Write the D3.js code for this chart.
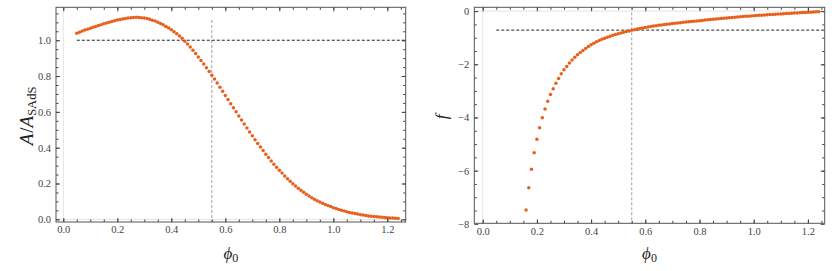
<!DOCTYPE html>
<html>
<head>
<meta charset="utf-8">
<script src="https://cdn.jsdelivr.net/npm/d3@7"></script>
<style>
  body { margin: 0; background: #fff; }
  svg { display: block; }
  .tick text { font-family: "Liberation Serif", "DejaVu Serif", serif; font-size: 10.5px; fill: #444; }
  .lbl { font-family: "Liberation Serif", "DejaVu Serif", serif; fill: #222; }
</style>
</head>
<body>
<svg id="chart" width="839" height="271"></svg>
<script>
// sampling grids (start, step)
var phiA = d3.range(0, 120).map(function(i) { return +(0.05 + i * 0.01).toFixed(2); });
var phiF = d3.range(0, 109).map(function(i) { return +(0.16 + i * 0.01).toFixed(2); });

// A / A_SAdS, phi0 = 0.05 ... 1.24
var areaRatio = [
  1.039, 1.045, 1.051, 1.057, 1.062, 1.067, 1.072, 1.077, 1.082, 1.087,
  1.092, 1.097, 1.101, 1.105, 1.109, 1.113, 1.116, 1.119, 1.122, 1.124,
  1.126, 1.127, 1.128, 1.127, 1.126, 1.124, 1.121, 1.117, 1.112, 1.107,
  1.101, 1.094, 1.086, 1.077, 1.068, 1.058, 1.047, 1.036, 1.024, 1.011,
  0.995, 0.979, 0.962, 0.944, 0.926, 0.907, 0.887, 0.867, 0.847, 0.826,
  0.805, 0.783, 0.761, 0.738, 0.715, 0.692, 0.669, 0.646, 0.623, 0.600,
  0.577, 0.554, 0.532, 0.510, 0.488, 0.466, 0.445, 0.424, 0.404, 0.384,
  0.364, 0.345, 0.326, 0.308, 0.291, 0.274, 0.258, 0.242, 0.227, 0.213,
  0.199, 0.186, 0.174, 0.162, 0.151, 0.140, 0.130, 0.121, 0.112, 0.104,
  0.097, 0.090, 0.083, 0.077, 0.071, 0.065, 0.060, 0.055, 0.050, 0.046,
  0.042, 0.038, 0.035, 0.032, 0.029, 0.026, 0.024, 0.021, 0.019, 0.017,
  0.016, 0.014, 0.013, 0.011, 0.010, 0.009, 0.008, 0.007, 0.006, 0.005
];

// f, phi0 = 0.16 ... 1.24
var fVals = [
  -7.48, -6.64, -5.95, -5.33, -4.82, -4.39, -4.01, -3.68, -3.39, -3.14,
  -2.92, -2.71, -2.53, -2.36, -2.21, -2.08, -1.95, -1.84, -1.74, -1.645,
  -1.56, -1.48, -1.405, -1.335, -1.27, -1.21, -1.155, -1.105, -1.06, -1.02,
  -0.982, -0.946, -0.912, -0.88, -0.85, -0.822, -0.795, -0.769, -0.744, -0.72,
  -0.697, -0.675, -0.654, -0.634, -0.615, -0.597, -0.580, -0.564, -0.548, -0.533,
  -0.519, -0.506, -0.493, -0.481, -0.469, -0.457, -0.445, -0.434, -0.423, -0.412,
  -0.401, -0.390, -0.380, -0.370, -0.360, -0.349, -0.338, -0.327, -0.317, -0.307,
  -0.297, -0.287, -0.277, -0.267, -0.258, -0.249, -0.240, -0.231, -0.222, -0.214,
  -0.206, -0.198, -0.190, -0.182, -0.174, -0.167, -0.160, -0.153, -0.146, -0.139,
  -0.132, -0.125, -0.118, -0.112, -0.105, -0.099, -0.092, -0.086, -0.080, -0.074,
  -0.068, -0.062, -0.056, -0.050, -0.044, -0.039, -0.033, -0.028, -0.022
];

var xTicks = [0.0, 0.2, 0.4, 0.6, 0.8, 1.0, 1.2];
var yTicksA = [0.0, 0.2, 0.4, 0.6, 0.8, 1.0];
var yTicksF = [0, -2, -4, -6, -8];
var markPhi = 0.55;
var refA = 1.0;
var refF = -0.715;

var svg = d3.select("#chart");
var dotColor = "#e8601c";

function panel(opt) {
  var x = d3.scaleLinear().domain(opt.xd).range([opt.left, opt.right]);
  var y = d3.scaleLinear().domain(opt.yd).range([opt.bottom, opt.top]);
  var g = svg.append("g");

  // faint origin lines
  g.append("line").attr("x1", x(0)).attr("x2", x(0)).attr("y1", opt.top).attr("y2", opt.bottom)
    .attr("stroke", "#e4e4e4").attr("stroke-width", 1);
  g.append("line").attr("x1", opt.left).attr("x2", opt.right).attr("y1", y(0)).attr("y2", y(0))
    .attr("stroke", "#e4e4e4").attr("stroke-width", 1);

  // reference lines
  g.append("line").attr("x1", x(markPhi)).attr("x2", x(markPhi))
    .attr("y1", opt.vTop != null ? y(opt.vTop) : opt.top).attr("y2", opt.bottom)
    .attr("stroke", "#a0a0a0").attr("stroke-width", 1).attr("stroke-dasharray", "3,2");
  g.append("line").attr("x1", x(0.05)).attr("x2", opt.right).attr("y1", y(opt.ref)).attr("y2", y(opt.ref))
    .attr("stroke", "#222").attr("stroke-width", 1).attr("stroke-dasharray", "3,2");

  // data points
  g.selectAll("circle.pt").data(opt.xs).enter().append("circle")
    .attr("class", "pt")
    .attr("cx", function(d) { return x(d); })
    .attr("cy", function(d, i) { return y(opt.ys[i]); })
    .attr("r", 1.75)
    .attr("fill", dotColor);

  var fmt = opt.fmt;
  function ax(axisFn, tr, scale, ticks, minor, labels) {
    var a = axisFn(scale).tickValues(ticks).tickSizeOuter(0);
    if (labels) a.tickSize(-4).tickPadding(5).tickFormat(fmt);
    else a.tickSize(minor ? -2.5 : -4).tickFormat("");
    var sel = g.append("g").attr("transform", tr).call(a);
    sel.select(".domain").remove();
    sel.selectAll(".tick line").attr("stroke", "#444");
    return sel;
  }
  var xMinor = d3.range(0, 54).map(function(i) { return i * 0.05 - 0.05; }).filter(function(v) { return v >= opt.xd[0] && v <= opt.xd[1]; });
  var yMinor = opt.yMinor.filter(function(v) { return v >= Math.min.apply(null, opt.yd) && v <= Math.max.apply(null, opt.yd); });

  var xf = d3.format(".1f");
  g.append("g").attr("transform", "translate(0," + opt.bottom + ")")
    .call(function(s) {
      var a = d3.axisBottom(x).tickValues(xTicks).tickSize(-4).tickPadding(4).tickSizeOuter(0).tickFormat(xf);
      s.call(a); s.select(".domain").remove(); s.selectAll(".tick line").attr("stroke", "#444");
    });
  ax(d3.axisBottom, "translate(0," + opt.bottom + ")", x, xMinor, true, false);
  ax(d3.axisTop, "translate(0," + opt.top + ")", x, xTicks, false, false);
  ax(d3.axisTop, "translate(0," + opt.top + ")", x, xMinor, true, false);
  ax(d3.axisLeft, "translate(" + opt.left + ",0)", y, opt.yTicks, false, true);
  ax(d3.axisLeft, "translate(" + opt.left + ",0)", y, yMinor, true, false);
  ax(d3.axisRight, "translate(" + opt.right + ",0)", y, opt.yTicks, false, false);
  ax(d3.axisRight, "translate(" + opt.right + ",0)", y, yMinor, true, false);

  // frame
  g.append("rect").attr("x", opt.left).attr("y", opt.top)
    .attr("width", opt.right - opt.left).attr("height", opt.bottom - opt.top)
    .attr("fill", "none").attr("stroke", "#555").attr("stroke-width", 1);

  // x label
  var xl = g.append("text").attr("class", "lbl")
    .attr("x", (opt.left + opt.right) / 2).attr("y", 259)
    .attr("text-anchor", "middle").attr("font-size", 17);
  xl.append("tspan").attr("font-style", "italic").text("\u03d5");
  xl.append("tspan").attr("font-size", 12).attr("dy", 3).text("0");
  return { g: g, x: x, y: y };
}

var pA = panel({
  left: 56, right: 405.7, top: 7.3, bottom: 222,
  xd: [-0.027, 1.268], yd: [-0.015, 1.184],
  xs: phiA, ys: areaRatio, ref: refA, vTop: 1.113,
  yTicks: yTicksA, yMinor: d3.range(0, 25).map(function(i) { return i * 0.05; }),
  fmt: d3.format(".1f")
});
var pF = panel({
  left: 474.3, right: 824.7, top: 7.3, bottom: 223.3,
  xd: [-0.031, 1.262], yd: [-7.98, 0.143],
  xs: phiF, ys: fVals, ref: refF, vTop: null,
  yTicks: yTicksF, yMinor: d3.range(0, 17).map(function(i) { return -i * 0.5; }),
  fmt: function(d) { return d < 0 ? "\u2212" + Math.abs(d) : "" + d; }
});

// y labels
var yl = svg.append("text").attr("class", "lbl").attr("font-size", 19)
  .attr("transform", "translate(33,116) rotate(-90)").attr("text-anchor", "middle");
yl.append("tspan").attr("font-style", "italic").text("A");
yl.append("tspan").attr("dx", 1).text("/");
yl.append("tspan").attr("font-style", "italic").text("A");
yl.append("tspan").attr("font-size", 12.5).attr("dy", 3).text("SAdS");

svg.append("text").attr("class", "lbl").attr("font-size", 17).attr("font-style", "italic")
  .attr("transform", "translate(447,117) rotate(-90)").attr("text-anchor", "middle").text("f");
</script>
</body>
</html>
